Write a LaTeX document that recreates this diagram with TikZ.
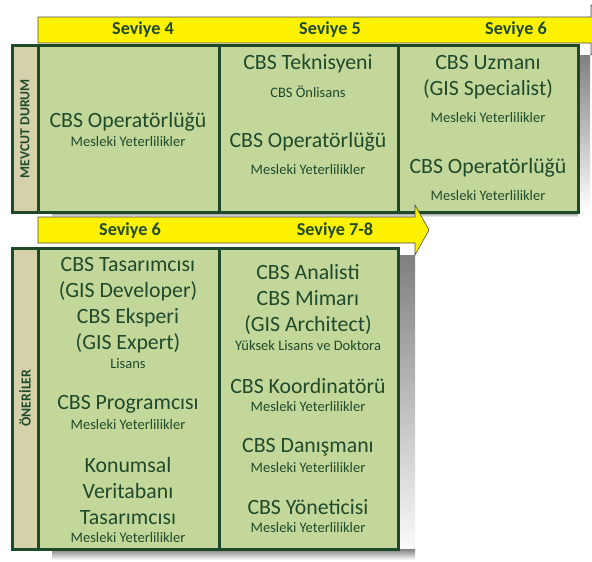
\documentclass[tikz,border=0pt]{standalone}
\usepackage{fontspec}
\setmainfont{Carlito}
\definecolor{cellgreen}{HTML}{C4D79B}
\definecolor{sidetan}{HTML}{D4D1AB}
\definecolor{darkgreen}{HTML}{1E4A2A}
\definecolor{textgreen}{HTML}{1F4A2B}
\definecolor{shade}{HTML}{F5F7F1}
\begin{document}
\begin{tikzpicture}[x=1pt,y=-1pt,
    cell/.style={draw=darkgreen,line width=3pt,fill=cellgreen},
    side/.style={draw=darkgreen,line width=3pt,fill=sidetan},
    band/.style={draw=gray!60!black,line width=0.6pt,fill=yellow},
    big/.style={font=\fontsize{21.8}{26}\selectfont,text=textgreen,align=center,inner sep=0pt},
    small/.style={font=\fontsize{14.5}{16}\selectfont,text=textgreen,inner sep=0pt},
    level/.style={font=\fontsize{18.2}{20}\selectfont\bfseries,text=textgreen,inner sep=0pt},
    sidelabel/.style={font=\fontsize{13.8}{15}\selectfont\bfseries,text=textgreen,rotate=90,inner sep=0pt}]
  \useasboundingbox (0,0) rectangle (592,562);
  % faint shadows
  \fill[shade] (578,55) rectangle (590,212);
  \fill[shade] (52,212) rectangle (578,217);
  \fill[shade] (398,255) rectangle (415,560);
  \fill[shade] (52,549) rectangle (415,560);
  % top level arrow
  \draw[band] (38,17) -- (591,17) -- (591,5) -- (616,30) -- (591,55) -- (591,43) -- (38,43) -- cycle;
  % current state
  \draw[side] (12,45) rectangle (38,212);
  \draw[cell] (38,45) rectangle (219,212);
  \draw[cell] (219,45) rectangle (398,212);
  \draw[cell] (398,45) rectangle (578,212);
  % second level arrow
  \draw[band] (38,217) -- (415,217) -- (415,205) -- (429,230) -- (415,255) -- (415,243) -- (38,243) -- cycle;
  % proposals
  \draw[side] (12,248) rectangle (38,549);
  \draw[cell] (38,248) rectangle (219,549);
  \draw[cell] (219,248) rectangle (398,549);

  \draw
    (143,30) node[level] (s4) {Seviye 4}
    (330,30) node[level] (s5) {Seviye 5}
    (516,30) node[level] (s6) {Seviye 6}
    (130,231) node[level] (s6b) {Seviye 6}
    (335,231) node[level] (s78) {Seviye 7-8};
  \draw
    (25,129) node[sidelabel] (mevcut) {MEVCUT DURUM}
    (25,398) node[sidelabel] (oneri) {ÖNERİLER};

  \draw
    (128,122) node[big] (op4) {CBS Operatörlüğü}
    (128,142) node[small] (op4m) {Mesleki Yeterlilikler}
    (308,64) node[big] (tek) {CBS Teknisyeni}
    (308,92) node[small] (tekm) {CBS Önlisans}
    (308,142) node[big] (op5) {CBS Operatörlüğü}
    (308,170) node[small] (op5m) {Mesleki Yeterlilikler}
    (488,77) node[big] (uzm) {CBS Uzmanı\\(GIS Specialist)}
    (488,118) node[small] (uzmm) {Mesleki Yeterlilikler}
    (488,168) node[big] (op6) {CBS Operatörlüğü}
    (488,196) node[small] (op6m) {Mesleki Yeterlilikler};

  \draw
    (128,305) node[big] (tas) {CBS Tasarımcısı\\(GIS Developer)\\CBS Eksperi\\(GIS Expert)}
    (128,364) node[small] (lis) {Lisans}
    (128,404) node[big] (prog) {CBS Programcısı}
    (128,425) node[small] (progm) {Mesleki Yeterlilikler}
    (128,491) node[big] (kon) {Konumsal\\Veritabanı\\Tasarımcısı}
    (128,538) node[small] (konm) {Mesleki Yeterlilikler}
    (308,299) node[big] (ana) {CBS Analisti\\CBS Mimarı\\(GIS Architect)}
    (308,346) node[small] (yl) {Yüksek Lisans ve Doktora}
    (308,386) node[big] (koo) {CBS Koordinatörü}
    (308,407) node[small] (koom) {Mesleki Yeterlilikler}
    (308,447) node[big] (dan) {CBS Danışmanı}
    (308,468) node[small] (danm) {Mesleki Yeterlilikler}
    (308,507) node[big] (yon) {CBS Yöneticisi}
    (308,528) node[small] (yonm) {Mesleki Yeterlilikler};
\end{tikzpicture}
\end{document}
